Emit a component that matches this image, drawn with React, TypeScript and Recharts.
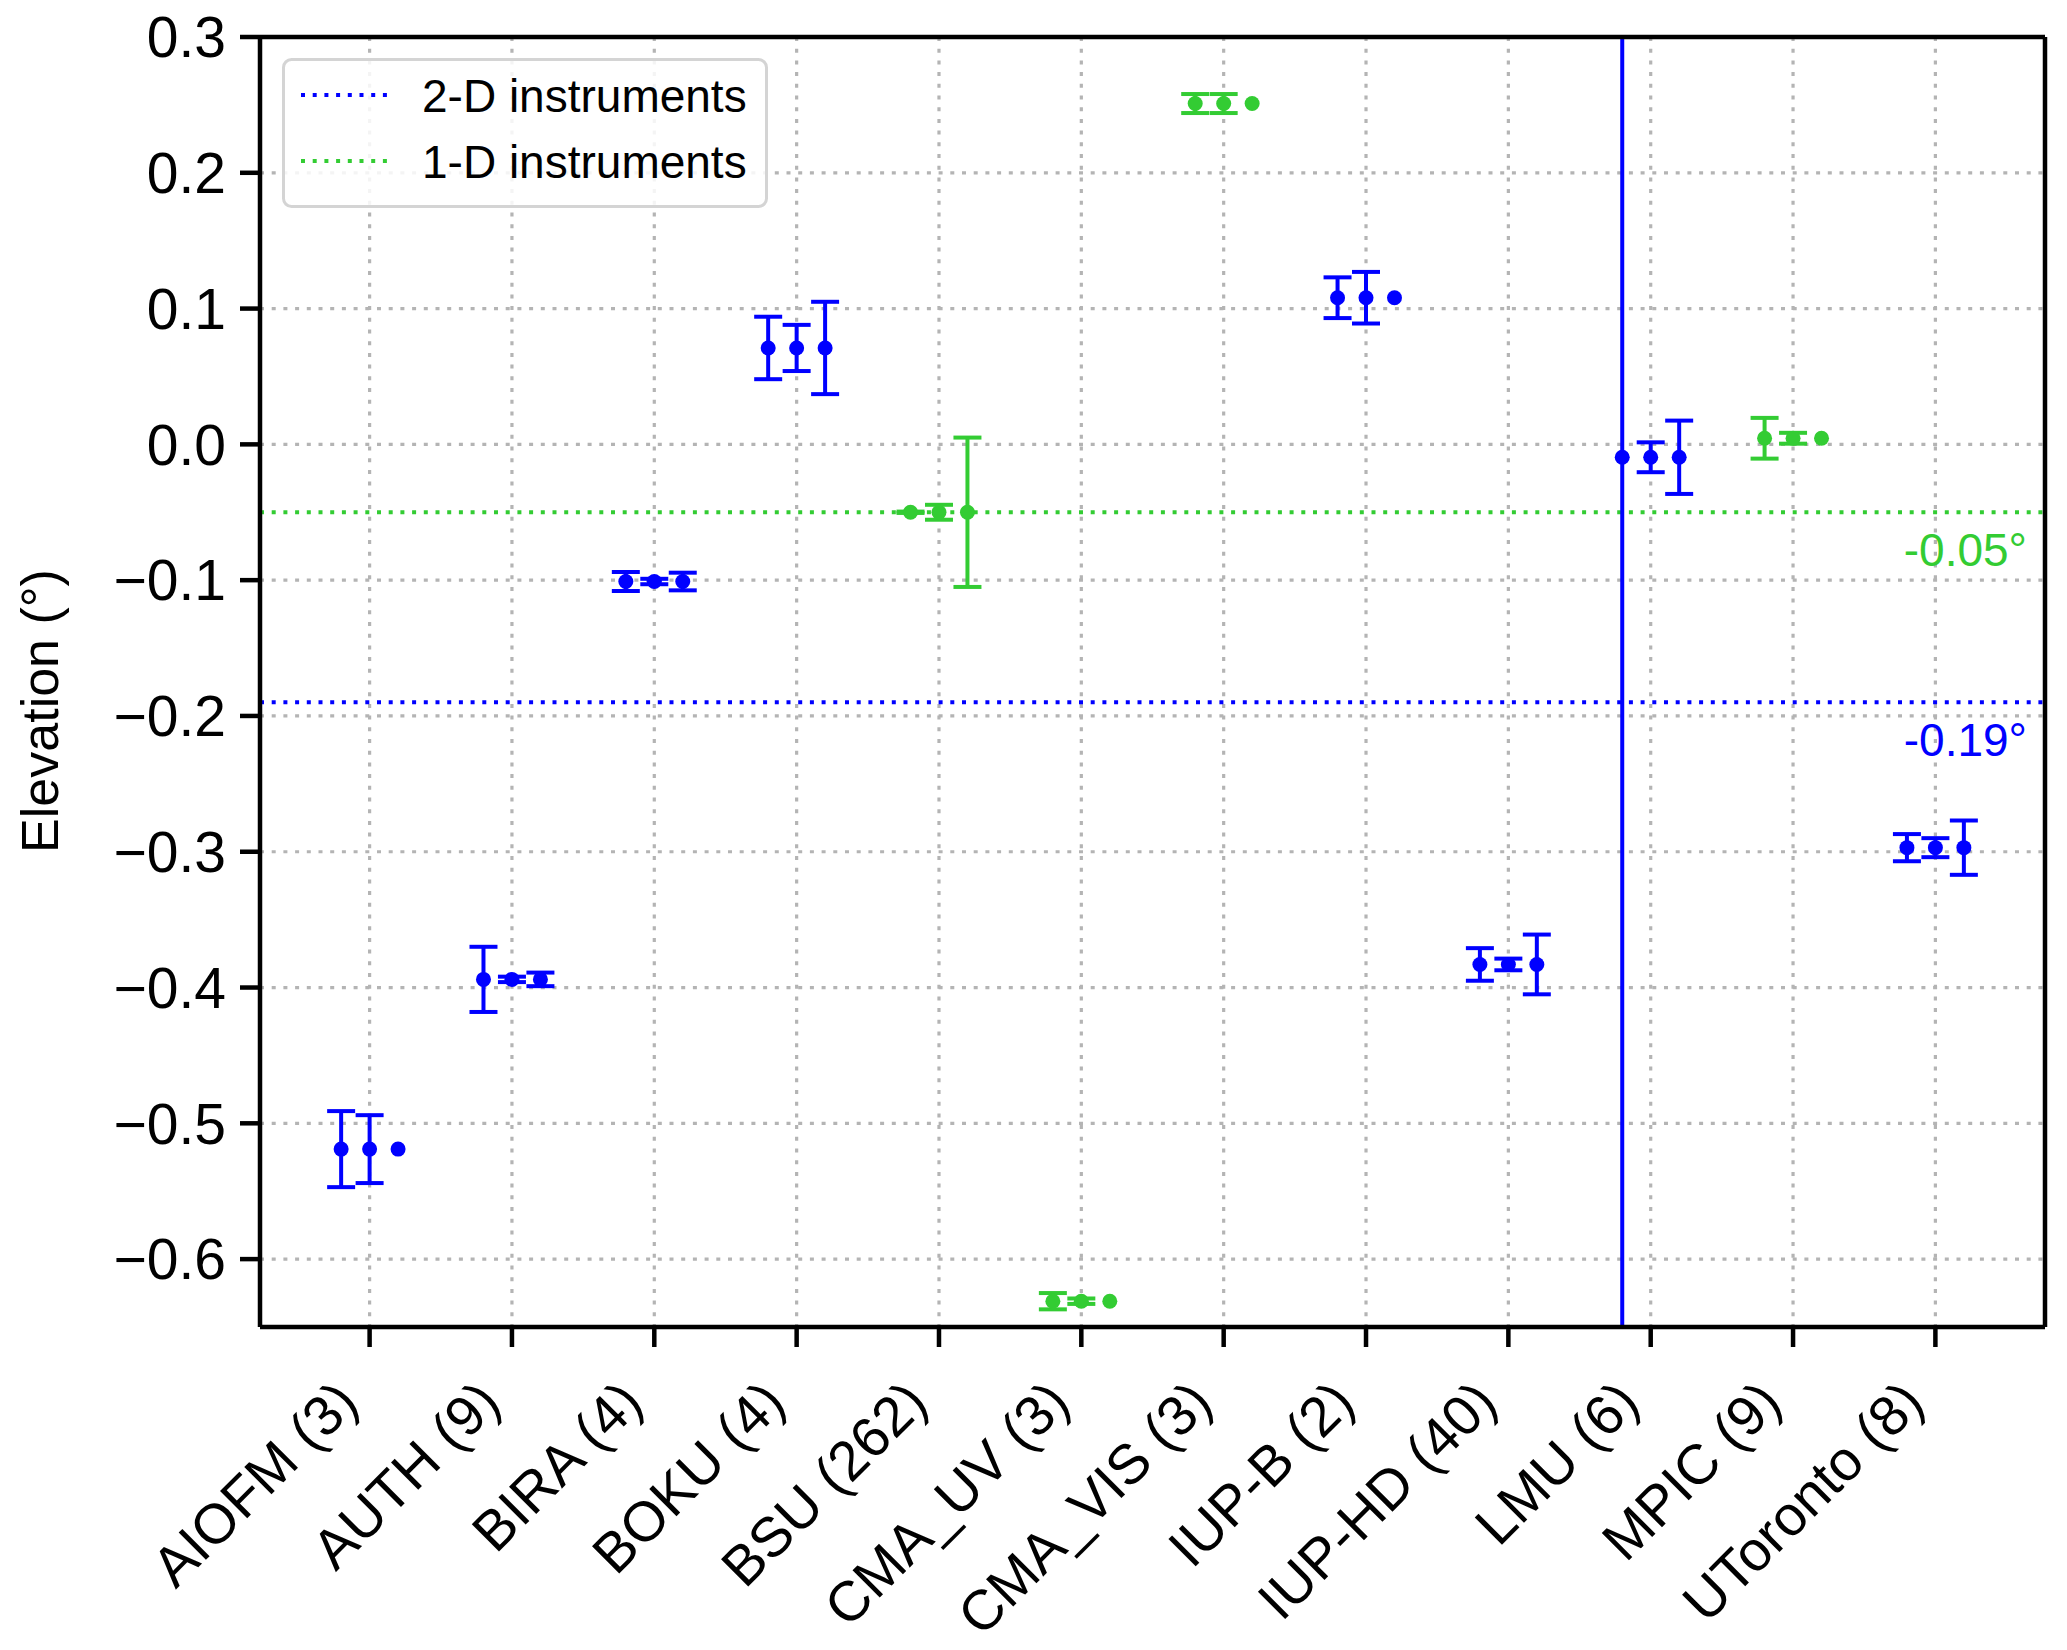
import React from 'react';
import {
  ScatterChart,
  Scatter,
  XAxis,
  YAxis,
  CartesianGrid,
  ErrorBar,
  ReferenceLine,
  Legend,
} from 'recharts';

// ---------- data ----------
const categories = [
  'AIOFM (3)', 'AUTH (9)', 'BIRA (4)', 'BOKU (4)', 'BSU (262)', 'CMA_UV (3)',
  'CMA_VIS (3)', 'IUP-B (2)', 'IUP-HD (40)', 'LMU (6)', 'MPIC (9)', 'UToronto (8)',
];
const instrumentTypes = ['2D', '2D', '2D', '2D', '1D', '1D', '1D', '2D', '2D', '2D', '1D', '2D'];

// three estimates per group (left, middle, right)
const methodOffsets = [-0.2, 0, 0.2];
const valuesA = [-0.519, -0.394, -0.101, 0.071, -0.05, -0.631, 0.251, 0.108, -0.383, -0.0095, 0.0045, -0.297];
const valuesB = [-0.519, -0.394, -0.101, 0.071, -0.05, -0.631, 0.251, 0.108, -0.383, -0.0095, 0.0045, -0.297];
const valuesC = [-0.519, -0.394, -0.101, 0.071, -0.05, -0.631, 0.251, 0.108, -0.383, -0.0095, 0.0045, -0.297];
// Infinity = error bar larger than the whole plotted range
const errorsA = [0.028, 0.024, 0.007, 0.023, 0.0005, 0.006, 0.007, 0.015, 0.012, Infinity, 0.015, 0.010];
const errorsB = [0.025, 0.002, 0.002, 0.017, 0.0055, 0.002, 0.007, 0.019, 0.0043, 0.011, 0.004, 0.007];
const errorsC = [null, 0.005, 0.0065, 0.034, 0.055, null, null, null, 0.022, 0.027, null, 0.020];

const meanLevels = [
  { key: '2D', label: '2-D instruments', value: -0.19, text: '-0.19°', color: '#0000ff' },
  { key: '1D', label: '1-D instruments', value: -0.05, text: '-0.05°', color: '#33cc33' },
];

const yTicks = [-0.6, -0.5, -0.4, -0.3, -0.2, -0.1, 0, 0.1, 0.2, 0.3];
const xTicks = categories.map((_, i) => i);
const yDomain = [-0.65, 0.3];
const xDomain = [-0.77, 11.77];

const methodValues = [valuesA, valuesB, valuesC];
const methodErrors = [errorsA, errorsB, errorsC];

const rows2D: any[] = [];
const rows1D: any[] = [];
const rowsUnbounded2D: any[] = [];
const rowsUnbounded1D: any[] = [];
categories.forEach((_, i) => {
  methodValues.forEach((vals, m) => {
    const err = methodErrors[m][i];
    const is2D = instrumentTypes[i] === '2D';
    const x = i + methodOffsets[m];
    const y = vals[i];
    if (err != null && !isFinite(err)) {
      const row = { x, y, err: [y - yDomain[0], yDomain[1] - y] };
      (is2D ? rowsUnbounded2D : rowsUnbounded1D).push(row);
    } else {
      (is2D ? rows2D : rows1D).push({ x, y, err });
    }
  });
});

// ---------- styles ----------
const FONT = "'Liberation Sans', Arial, Helvetica, sans-serif";
const BLUE = '#0000ff';
const GREEN = '#33cc33';

const fmtY = (v: number) => {
  if (Math.abs(v) < 1e-9) return '0.0';
  return (v < 0 ? '\u2212' : '') + Math.abs(v).toFixed(1);
};

const XTick = (props: any) => {
  const { x, y, payload } = props;
  const ax = x - 9;
  const ay = y + 58;
  return (
    <text
      x={ax}
      y={ay}
      transform={`rotate(-45, ${ax}, ${ay})`}
      textAnchor="end"
      fontSize={56}
      fontFamily={FONT}
      fill="#000"
    >
      {categories[payload.value]}
    </text>
  );
};

const makeDot = (color: string) => (props: any) => {
  const { cx, cy } = props;
  if (cx == null || cy == null) return null;
  return <circle cx={cx} cy={cy} r={7.5} fill={color} />;
};

const makeRefLabel = (text: string, color: string) => (props: any) => {
  const vb = props.viewBox || {};
  return (
    <text
      x={vb.x + vb.width - 18}
      y={vb.y + 54}
      textAnchor="end"
      fontSize={46}
      fontFamily={FONT}
      fill={color}
    >
      {text}
    </text>
  );
};

const LegendBox = () => (
  <svg width={486} height={150} style={{ display: 'block', overflow: 'visible' }}>
    <rect x={1.5} y={1.5} width={483} height={147} rx={8} ry={8} fill="#fff" fillOpacity={0.85} stroke="#d4d4d4" strokeWidth={3} />
    {meanLevels.map((lv, k) => {
      const cy = 37 + k * 66;
      return (
        <g key={lv.key}>
          <line x1={19} x2={112} y1={cy} y2={cy} stroke={lv.color} strokeWidth={4} strokeDasharray="4 7.7" />
          <text x={140} y={cy} dy="0.36em" fontSize={46} fontFamily={FONT} fill="#000">
            {lv.label}
          </text>
        </g>
      );
    })}
  </svg>
);

const AXIS_STROKE = { stroke: '#000', strokeWidth: 4.5 };

export default function App() {
  return (
    <div style={{ width: 2067, height: 1650, margin: -8, fontFamily: FONT, overflow: 'hidden' }}>
      <ScatterChart width={2067} height={1650} margin={{ top: 36, right: 21, bottom: 0, left: 0 }}>
        <CartesianGrid stroke="#b4b4b4" strokeDasharray="4 7.7" strokeWidth={3.2} />
        <XAxis
          xAxisId={0}
          type="number"
          dataKey="x"
          domain={xDomain}
          allowDataOverflow
          ticks={xTicks}
          interval={0}
          height={323}
          tick={<XTick />}
          tickSize={20}
          tickMargin={0}
          axisLine={AXIS_STROKE}
          tickLine={AXIS_STROKE}
        />
        <XAxis
          xAxisId="top"
          orientation="top"
          type="number"
          domain={xDomain}
          allowDataOverflow
          height={1}
          tick={false}
          tickLine={false}
          axisLine={AXIS_STROKE}
        />
        <YAxis
          yAxisId={0}
          type="number"
          dataKey="y"
          domain={yDomain}
          allowDataOverflow
          ticks={yTicks}
          interval={0}
          width={260}
          tickFormatter={fmtY}
          tick={{ fontSize: 57, fontFamily: FONT, fill: '#000' }}
          tickSize={20}
          tickMargin={14}
          axisLine={AXIS_STROKE}
          tickLine={AXIS_STROKE}
          label={{
            value: 'Elevation (°)',
            angle: -90,
            position: 'center',
            dx: -90,
            dy: 29,
            style: { fontSize: 52, fontFamily: FONT, fill: '#000' },
          }}
        />
        <YAxis
          yAxisId="right"
          orientation="right"
          type="number"
          domain={yDomain}
          allowDataOverflow
          width={1}
          tick={false}
          tickLine={false}
          axisLine={AXIS_STROKE}
        />
        {meanLevels.map((lv) => (
          <ReferenceLine
            key={lv.key}
            y={lv.value}
            stroke={lv.color}
            strokeWidth={4}
            strokeDasharray="4 7.7"
            label={makeRefLabel(lv.text, lv.color)}
          />
        ))}
        <Scatter data={rows2D} shape={makeDot(BLUE)} isAnimationActive={false}>
          <ErrorBar dataKey="err" direction="y" width={14} stroke={BLUE} strokeWidth={4} isAnimationActive={false} />
        </Scatter>
        <Scatter data={rows1D} shape={makeDot(GREEN)} isAnimationActive={false}>
          <ErrorBar dataKey="err" direction="y" width={14} stroke={GREEN} strokeWidth={4} isAnimationActive={false} />
        </Scatter>
        <Scatter data={rowsUnbounded2D} shape={makeDot(BLUE)} isAnimationActive={false}>
          <ErrorBar dataKey="err" direction="y" width={0} stroke={BLUE} strokeWidth={4} isAnimationActive={false} />
        </Scatter>
        <Scatter data={rowsUnbounded1D} shape={makeDot(GREEN)} isAnimationActive={false}>
          <ErrorBar dataKey="err" direction="y" width={0} stroke={GREEN} strokeWidth={4} isAnimationActive={false} />
        </Scatter>
        <Legend
          layout="vertical"
          align="center"
          verticalAlign="middle"
          content={() => <LegendBox />}
          wrapperStyle={{ position: 'absolute', left: 282, top: 58, width: 486, height: 150, margin: 0 }}
        />
      </ScatterChart>
    </div>
  );
}
